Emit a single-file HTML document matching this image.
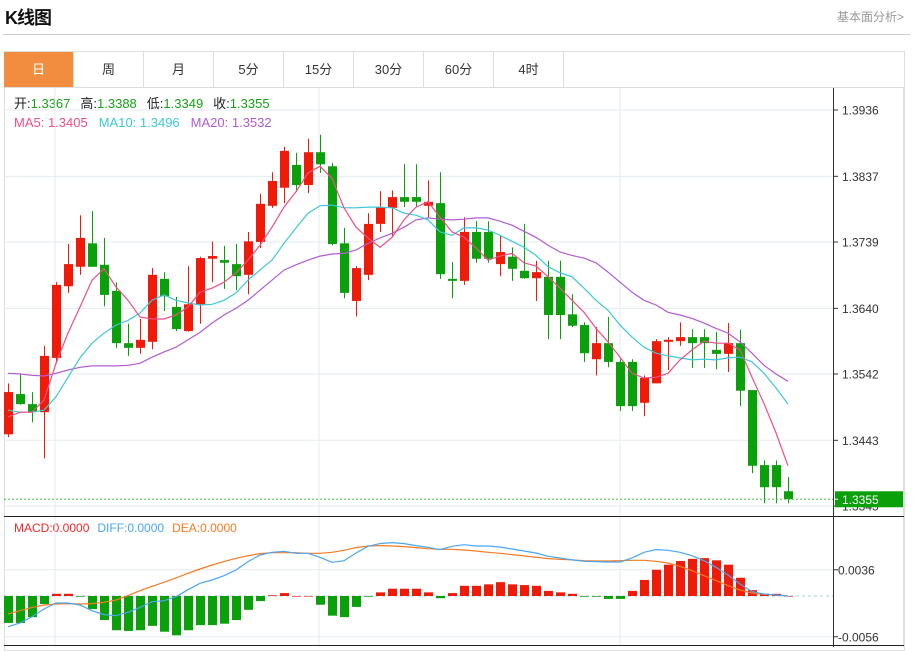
<!DOCTYPE html>
<html><head><meta charset="utf-8">
<style>
html,body{margin:0;padding:0;background:#fff;width:915px;height:647px;overflow:hidden;font-family:"Liberation Sans","Noto Sans CJK SC",sans-serif;}
#title{position:absolute;left:5px;top:4px;font-size:18px;font-weight:bold;color:#111;letter-spacing:-1px;}
#more{position:absolute;left:837px;top:8px;font-size:12px;color:#999;}
#sep{position:absolute;left:3px;top:34px;width:907px;height:1px;background:#ccc;}
#box{position:absolute;left:4px;top:51px;width:901px;height:600px;border:1px solid #ddd;box-sizing:border-box;}
.tab{position:absolute;top:52px;height:35px;width:70px;border-right:1px solid #ddd;box-sizing:border-box;text-align:center;line-height:35px;font-size:13px;color:#333;}
#tabrow{position:absolute;left:4px;top:87px;width:901px;height:1px;background:#ddd;}
svg{position:absolute;left:0;top:0;}
</style></head><body>
<div id="title">K线图</div>
<div id="more">基本面分析&gt;</div>
<div id="sep"></div>
<div id="box"></div>
<div id="tabrow"></div>
<div class="tab" style="left:4px;background:#F28C3E;color:#fff;">日</div>
<div class="tab" style="left:74px;">周</div>
<div class="tab" style="left:144px;">月</div>
<div class="tab" style="left:214px;">5分</div>
<div class="tab" style="left:284px;">15分</div>
<div class="tab" style="left:354px;">30分</div>
<div class="tab" style="left:424px;">60分</div>
<div class="tab" style="left:494px;">4时</div>

<svg id="chart" width="915" height="647" font-family="Liberation Sans, Noto Sans CJK SC, sans-serif">
<text x="14" y="108" font-size="13"><tspan fill="#222">开:</tspan><tspan fill="#16a316">1.3367</tspan><tspan fill="#222" dx="10">高:</tspan><tspan fill="#16a316">1.3388</tspan><tspan fill="#222" dx="10">低:</tspan><tspan fill="#16a316">1.3349</tspan><tspan fill="#222" dx="10">收:</tspan><tspan fill="#16a316">1.3355</tspan></text>
<text x="14" y="127" font-size="13"><tspan fill="#ee4f86">MA5: 1.3405</tspan><tspan fill="#3cc7db" dx="11">MA10: 1.3496</tspan><tspan fill="#b25bd0" dx="11">MA20: 1.3532</tspan></text>
<text x="14" y="532" font-size="12"><tspan fill="#f02a2a">MACD:0.0000</tspan><tspan fill="#4aa6f0" dx="8">DIFF:0.0000</tspan><tspan fill="#f57a22" dx="8">DEA:0.0000</tspan></text>
</svg>

<script>
const opens=[1.3452,1.3512,1.3497,1.3485,1.3566,1.3673,1.3702,1.3737,1.3705,1.3666,1.3588,1.3581,1.3590,1.3684,1.3642,1.3606,1.3646,1.3714,1.3712,1.3706,1.3690,1.3739,1.3793,1.3820,1.3854,1.3824,1.3873,1.3852,1.3737,1.3651,1.3690,1.3766,1.3790,1.3806,1.3806,1.3793,1.3797,1.3684,1.3681,1.3754,1.3754,1.3706,1.3717,1.3696,1.3685,1.3687,1.3687,1.3631,1.3615,1.3564,1.3588,1.3560,1.3560,1.3499,1.3528,1.3590,1.3591,1.3597,1.3597,1.3578,1.3572,1.3588,1.3518,1.3406,1.3406,1.3367];
const highs=[1.3528,1.3543,1.3515,1.3584,1.3679,1.3736,1.3779,1.3785,1.3745,1.3679,1.3617,1.3624,1.3700,1.3694,1.3657,1.3703,1.3717,1.3740,1.3733,1.3736,1.3754,1.3811,1.3843,1.3881,1.3872,1.3893,1.3899,1.3857,1.3760,1.3703,1.3782,1.3815,1.3816,1.3855,1.3855,1.3831,1.3843,1.3709,1.3776,1.3770,1.3770,1.3748,1.3731,1.3766,1.3711,1.3711,1.3711,1.3661,1.3619,1.3612,1.3627,1.3564,1.3564,1.3540,1.3594,1.3597,1.3619,1.3609,1.3609,1.3605,1.3618,1.3608,1.3518,1.3413,1.3413,1.3388];
const lows=[1.3448,1.3496,1.3470,1.3416,1.3558,1.3663,1.3690,1.3702,1.3643,1.3581,1.3569,1.3572,1.3579,1.3636,1.3606,1.3605,1.3617,1.3679,1.3669,1.3667,1.3661,1.3730,1.3790,1.3797,1.3814,1.3812,1.3842,1.3734,1.3655,1.3628,1.3682,1.3754,1.3746,1.3791,1.3791,1.3776,1.3684,1.3655,1.3675,1.3708,1.3708,1.3688,1.3681,1.3684,1.3651,1.3594,1.3594,1.3612,1.3560,1.3540,1.3552,1.3487,1.3487,1.3479,1.3528,1.3548,1.3584,1.3551,1.3551,1.3549,1.3545,1.3494,1.3394,1.3349,1.3349,1.3349];
const closes=[1.3515,1.3497,1.3485,1.3569,1.3675,1.3706,1.3745,1.3702,1.3660,1.3588,1.3581,1.3593,1.3690,1.3658,1.3609,1.3646,1.3715,1.3718,1.3708,1.3688,1.3740,1.3796,1.3830,1.3875,1.3824,1.3873,1.3855,1.3736,1.3663,1.3700,1.3766,1.3791,1.3806,1.3799,1.3799,1.3799,1.3691,1.3681,1.3754,1.3714,1.3714,1.3724,1.3699,1.3685,1.3694,1.3630,1.3630,1.3614,1.3573,1.3588,1.3560,1.3494,1.3494,1.3536,1.3591,1.3593,1.3597,1.3588,1.3588,1.3572,1.3588,1.3517,1.3405,1.3373,1.3373,1.3355];
const ma5=[1.3478,1.3485,1.3485,1.3503,1.3558,1.3603,1.3642,1.3682,1.3699,1.3672,1.3652,1.3627,1.3624,1.3624,1.3630,1.3642,1.3664,1.3670,1.3679,1.3693,1.3712,1.3734,1.3761,1.3791,1.3814,1.3842,1.3852,1.3834,1.3790,1.3761,1.3745,1.3731,1.3746,1.3772,1.3791,1.3799,1.3776,1.3754,1.3746,1.3730,1.3712,1.3718,1.3722,1.3708,1.3703,1.3687,1.3670,1.3652,1.3634,1.3610,1.3590,1.3567,1.3543,1.3536,1.3537,1.3543,1.3563,1.3578,1.3591,1.3588,1.3588,1.3578,1.3537,1.3498,1.3454,1.3405];
const ma10=[1.3488,1.3485,1.3485,1.3488,1.3508,1.3537,1.3566,1.3588,1.3603,1.3615,1.3622,1.3633,1.3652,1.3660,1.3652,1.3648,1.3645,1.3646,1.3652,1.3663,1.3682,1.3697,1.3712,1.3737,1.3760,1.3782,1.3793,1.3794,1.3790,1.3790,1.3791,1.3791,1.3790,1.3782,1.3779,1.3772,1.3754,1.3749,1.3760,1.3760,1.3757,1.3749,1.3740,1.3731,1.3719,1.3702,1.3693,1.3687,1.3670,1.3652,1.3637,1.3615,1.3597,1.3582,1.3573,1.3569,1.3566,1.3563,1.3564,1.3563,1.3566,1.3567,1.3560,1.3543,1.3521,1.3497];
const ma20=[1.3543,1.3542,1.3540,1.3539,1.3543,1.3548,1.3552,1.3554,1.3554,1.3554,1.3555,1.3558,1.3567,1.3575,1.3582,1.3593,1.3604,1.3618,1.3630,1.3640,1.3652,1.3667,1.3682,1.3697,1.3705,1.3712,1.3718,1.3721,1.3722,1.3727,1.3737,1.3745,1.3752,1.3761,1.3772,1.3775,1.3773,1.3772,1.3773,1.3775,1.3775,1.3770,1.3764,1.3755,1.3746,1.3734,1.3724,1.3719,1.3715,1.3708,1.3694,1.3679,1.3664,1.3652,1.3645,1.3634,1.3630,1.3625,1.3618,1.3610,1.3603,1.3590,1.3573,1.3555,1.3542,1.3531];
const macdHist=[-0.0037,-0.0037,-0.0029,-0.0011,0.0003,0.0003,-0.0001,-0.0018,-0.0033,-0.0047,-0.0048,-0.0047,-0.0041,-0.0049,-0.0054,-0.0047,-0.0040,-0.0040,-0.0038,-0.0033,-0.0019,-0.0007,0.0001,0.0004,0,0,-0.0012,-0.0027,-0.0029,-0.0015,-0.0001,0.0005,0.0010,0.0010,0.0010,0.0005,-0.0003,0.0004,0.0014,0.0014,0.0016,0.0019,0.0016,0.0015,0.0014,0.0007,0.0005,0.0003,-0.0001,-0.0001,-0.0004,-0.0004,0.0007,0.0022,0.0036,0.0043,0.0048,0.0051,0.0052,0.0049,0.0043,0.0025,0.0008,0.0003,0.0003,0];
const diff=[-0.00421,-0.00371,-0.00284,-0.00179,-0.00096,-0.00096,-0.00124,-0.00202,-0.00256,-0.00270,-0.00224,-0.00156,-0.00078,-0.00064,-0.00009,0.00087,0.00174,0.00220,0.00279,0.00357,0.00472,0.00563,0.00600,0.00614,0.00586,0.00586,0.00531,0.00463,0.00485,0.00591,0.00682,0.00719,0.00733,0.00719,0.00692,0.00669,0.00637,0.00682,0.00705,0.00687,0.00687,0.00673,0.00646,0.00618,0.00591,0.00545,0.00522,0.00495,0.00476,0.00472,0.00467,0.00467,0.00522,0.00600,0.00637,0.00627,0.00600,0.00554,0.00485,0.00394,0.00289,0.00165,0.00060,0.00027,0.00014,0];
const dea=[-0.00247,-0.00202,-0.00156,-0.00124,-0.00110,-0.00105,-0.00110,-0.00105,-0.00087,-0.00055,0.00005,0.00073,0.00133,0.00188,0.00247,0.00311,0.00371,0.00426,0.00472,0.00518,0.00554,0.00582,0.00595,0.00595,0.00595,0.00586,0.00586,0.00600,0.00627,0.00664,0.00687,0.00692,0.00687,0.00678,0.00664,0.00650,0.00641,0.00641,0.00632,0.00618,0.00600,0.00586,0.00568,0.00550,0.00531,0.00513,0.00504,0.00495,0.00485,0.00481,0.00481,0.00485,0.00490,0.00490,0.00476,0.00453,0.00408,0.00348,0.00279,0.00211,0.00142,0.00082,0.00041,0.00023,0.00014,0];
const priceTicks=[1.3936,1.3837,1.3739,1.3640,1.3542,1.3443,1.3345];
const priceTickLabels=["1.3936","1.3837","1.3739","1.3640","1.3542","1.3443","1.3345"];
const macdTicks=[0.0036,-0.0056];
const macdTickLabels=["0.0036","-0.0056"];
const lastPrice=1.3355;

const NS="http://www.w3.org/2000/svg";
const svg=document.getElementById('chart');
const xC=i=>8+12*i;
const yP=v=>110+(1.3936-v)*6700;
const yM=v=>596-v*7283;
const PL=4, PR=833;
function mk(tag,attrs,parent){const e=document.createElementNS(NS,tag);for(const k in attrs)e.setAttribute(k,attrs[k]);(parent||svg).appendChild(e);return e;}

// grids
const grid=mk('g',{});


priceTicks.forEach(t=>{mk('line',{x1:PL,x2:PR,y1:yP(t),y2:yP(t),stroke:'#e3ebf2','stroke-width':1},grid);});
macdTicks.forEach(t=>{mk('line',{x1:PL,x2:PR,y1:yM(t),y2:yM(t),stroke:'#e3ebf2','stroke-width':1},grid);});
[55,319,620].forEach(x=>{mk('line',{x1:x,x2:x,y1:88,y2:646,stroke:'#e3ebf2','stroke-width':1},grid);});

// candles
const cg=mk('g',{});


for(let i=0;i<opens.length;i++){
  const up=closes[i]>=opens[i];
  const col=up?'#f01a08':'#0aa00a';
  const x=xC(i);
  const g=mk('g',{},cg);
  
  
  mk('line',{x1:x+0.5,x2:x+0.5,y1:yP(highs[i]),y2:yP(lows[i]),stroke:col,'stroke-width':1},g);
  const t=Math.min(yP(opens[i]),yP(closes[i]));
  const h=Math.max(1.5,Math.abs(yP(opens[i])-yP(closes[i])));
  mk('rect',{x:x-4,y:t,width:9,height:h,fill:col},g);
}
function line(arr,fy,col,name){
  const p=mk('polyline',{points:arr.map((v,i)=>xC(i)+','+fy(v).toFixed(1)).join(' '),fill:'none',stroke:col,'stroke-width':1.2});
  
  
}
line(ma20,yP,'#b25bd0','ma20-line');
line(ma10,yP,'#3cc7db','ma10-line');
line(ma5,yP,'#ee4f86','ma5-line');

// price line
const pl=mk('line',{x1:PL,x2:PR,y1:yP(lastPrice),y2:yP(lastPrice),stroke:'#49c049','stroke-width':1,'stroke-dasharray':'2,2'});



// macd
const zl=mk('line',{x1:PL,x2:PR,y1:yM(0),y2:yM(0),stroke:'#9fd0ea','stroke-width':1,'stroke-dasharray':'3,3'});


const hg=mk('g',{});


macdHist.forEach((v,i)=>{
  const y0=yM(0),y1=yM(v);
  const r=mk('rect',{x:xC(i)-4,y:Math.min(y0,y1),width:9,height:Math.max(0.6,Math.abs(y1-y0)),fill:v>=0?'#f01a08':'#0aa00a'},hg);
  
  
});
line(dea,yM,'#f57a22','dea-line');
line(diff,yM,'#4aa6f0','diff-line');

// axes frame
const ax=mk('g',{});


mk('line',{x1:833.5,x2:833.5,y1:88,y2:647,stroke:'#333','stroke-width':1},ax);
mk('line',{x1:903.5,x2:903.5,y1:88,y2:647,stroke:'#ddd','stroke-width':1},ax);
mk('line',{x1:PL,x2:904,y1:516.5,y2:516.5,stroke:'#222','stroke-width':1},ax);
mk('line',{x1:PL,x2:904,y1:645.5,y2:645.5,stroke:'#222','stroke-width':1},ax);
priceTicks.forEach((t,k)=>{
  mk('line',{x1:834,x2:838,y1:yP(t),y2:yP(t),stroke:'#333'},ax);
  const tx=mk('text',{x:842,y:yP(t)+4.5,'font-size':12,fill:'#333'},ax);
  tx.textContent=priceTickLabels[k];
  
  
});
macdTicks.forEach((t,k)=>{
  mk('line',{x1:834,x2:838,y1:yM(t),y2:yM(t),stroke:'#333'},ax);
  const tx=mk('text',{x:838,y:yM(t)+4.5,'font-size':12,fill:'#333'},ax);
  tx.textContent=macdTickLabels[k];
  
  
});
// last price label
const lb=mk('g',{});


mk('rect',{x:835,y:yP(lastPrice)-8,width:68,height:16,fill:'#0aa00a'},lb);
mk('line',{x1:834,x2:838,y1:yP(lastPrice),y2:yP(lastPrice),stroke:'#fff'},lb);
const lt=mk('text',{x:842,y:yP(lastPrice)+4.5,'font-size':12,fill:'#fff'},lb);
lt.textContent=lastPrice.toFixed(4);
</script>
</body></html>
